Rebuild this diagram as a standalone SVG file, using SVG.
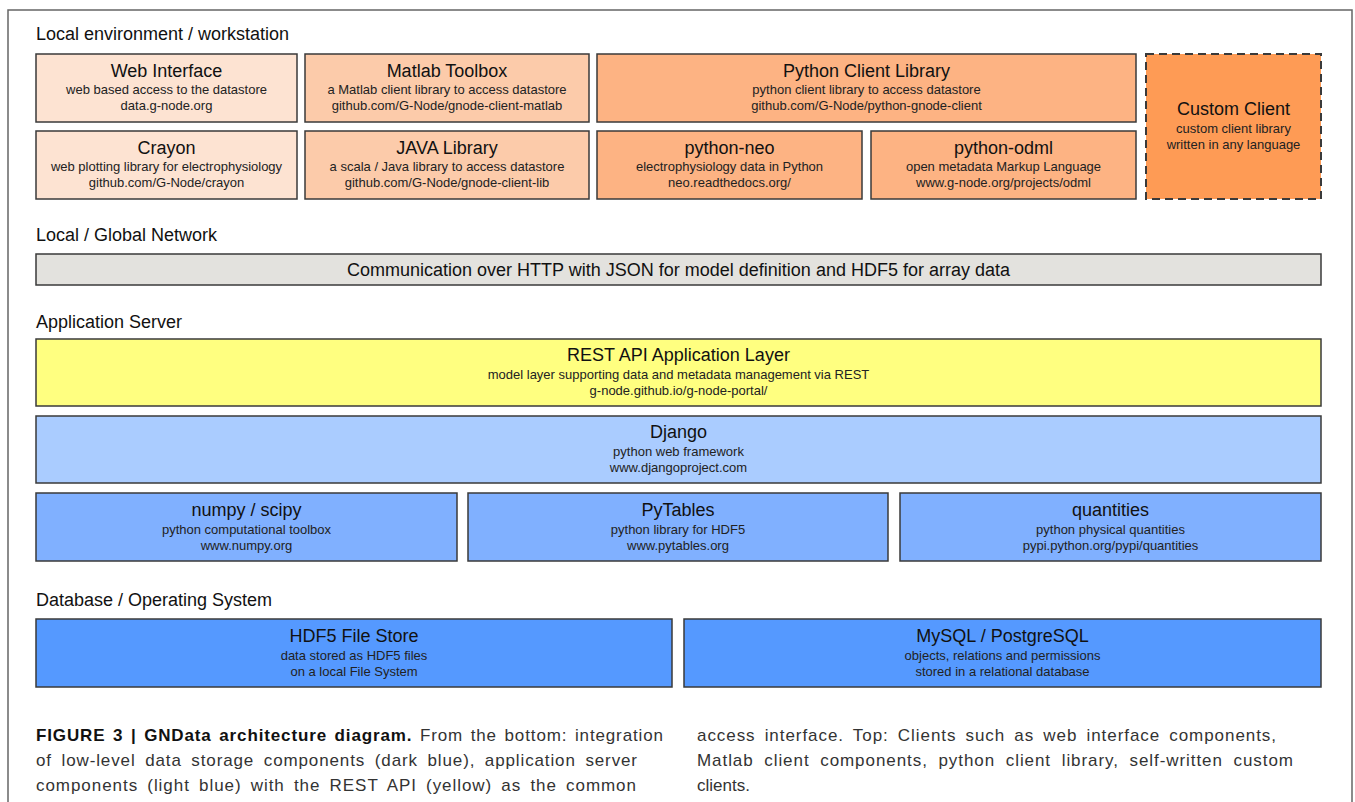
<svg xmlns="http://www.w3.org/2000/svg" width="1355" height="802" viewBox="0 0 1355 802">
<style>
.box{stroke:#3a3a3a;stroke-width:1.5}
.t{font-family:"Liberation Sans",Arial,sans-serif;font-size:18px;fill:#111;text-anchor:middle}
.s{font-family:"Liberation Sans",Arial,sans-serif;font-size:13px;fill:#222;text-anchor:middle}
.sec{font-family:"Liberation Sans",Arial,sans-serif;font-size:18px;fill:#111}
.cap{font-family:"Liberation Sans",Arial,sans-serif;font-size:17px;fill:#333}
.c1{fill:#fde3d2}.c2{fill:#fccbaa}.c3{fill:#fdb383}.c4{fill:#fe9b55}
.net{fill:#e3e2de}.rest{fill:#ffff80}.dj{fill:#aaccff}.mid{fill:#80b0ff}.db{fill:#5599ff}
</style>
<rect x="0" y="0" width="1355" height="802" fill="#fff"/>
<path d="M8,802 V10 H1352 V802" fill="none" stroke="#666" stroke-width="1.5"/>

<g id="labels">
<text class="sec" x="36" y="40">Local environment / workstation</text>
<text class="sec" x="36" y="241">Local / Global Network</text>
<text class="sec" x="36" y="328">Application Server</text>
<text class="sec" x="36" y="606">Database / Operating System</text>
</g>

<g id="web-interface">
<rect class="box c1" x="36" y="54" width="261" height="68"/>
<text class="t" x="166.5" y="77">Web Interface</text>
<text class="s" x="166.5" y="94">web based access to the datastore</text>
<text class="s" x="166.5" y="110">data.g-node.org</text>
</g>
<g id="matlab-toolbox">
<rect class="box c2" x="305" y="54" width="284" height="68"/>
<text class="t" x="447" y="77">Matlab Toolbox</text>
<text class="s" x="447" y="94">a Matlab client library to access datastore</text>
<text class="s" x="447" y="110">github.com/G-Node/gnode-client-matlab</text>
</g>
<g id="python-client-library">
<rect class="box c3" x="597" y="54" width="539" height="68"/>
<text class="t" x="866.5" y="77">Python Client Library</text>
<text class="s" x="866.5" y="94">python client library to access datastore</text>
<text class="s" x="866.5" y="110">github.com/G-Node/python-gnode-client</text>
</g>
<g id="custom-client">
<rect class="c4" x="1146" y="54" width="175" height="145" stroke="#3a3a3a" stroke-width="2" stroke-dasharray="8,5"/>
<text class="t" x="1233.5" y="115">Custom Client</text>
<text class="s" x="1233.5" y="133">custom client library</text>
<text class="s" x="1233.5" y="149">written in any language</text>
</g>
<g id="crayon">
<rect class="box c1" x="36" y="131" width="261" height="68"/>
<text class="t" x="166.5" y="154">Crayon</text>
<text class="s" x="166.5" y="171">web plotting library for electrophysiology</text>
<text class="s" x="166.5" y="187">github.com/G-Node/crayon</text>
</g>
<g id="java-library">
<rect class="box c2" x="305" y="131" width="284" height="68"/>
<text class="t" x="447" y="154">JAVA Library</text>
<text class="s" x="447" y="171">a scala / Java library to access datastore</text>
<text class="s" x="447" y="187">github.com/G-Node/gnode-client-lib</text>
</g>
<g id="python-neo">
<rect class="box c3" x="597" y="131" width="265" height="68"/>
<text class="t" x="729.5" y="154">python-neo</text>
<text class="s" x="729.5" y="171">electrophysiology data in Python</text>
<text class="s" x="729.5" y="187">neo.readthedocs.org/</text>
</g>
<g id="python-odml">
<rect class="box c3" x="871" y="131" width="265" height="68"/>
<text class="t" x="1003.5" y="154">python-odml</text>
<text class="s" x="1003.5" y="171">open metadata Markup Language</text>
<text class="s" x="1003.5" y="187">www.g-node.org/projects/odml</text>
</g>

<g id="network">
<rect class="box net" x="36" y="254" width="1285" height="31"/>
<text class="t" x="678.5" y="276">Communication over HTTP with JSON for model definition and HDF5 for array data</text>
</g>

<g id="rest-api">
<rect class="box rest" x="36" y="339" width="1285" height="67"/>
<text class="t" x="678.5" y="361">REST API Application Layer</text>
<text class="s" x="678.5" y="379">model layer supporting data and metadata management via REST</text>
<text class="s" x="678.5" y="395">g-node.github.io/g-node-portal/</text>
</g>
<g id="django">
<rect class="box dj" x="36" y="416" width="1285" height="67"/>
<text class="t" x="678.5" y="438">Django</text>
<text class="s" x="678.5" y="456">python web framework</text>
<text class="s" x="678.5" y="472">www.djangoproject.com</text>
</g>
<g id="numpy">
<rect class="box mid" x="36" y="493" width="421" height="68"/>
<text class="t" x="246.5" y="516">numpy / scipy</text>
<text class="s" x="246.5" y="534">python computational toolbox</text>
<text class="s" x="246.5" y="550">www.numpy.org</text>
</g>
<g id="pytables">
<rect class="box mid" x="468" y="493" width="420" height="68"/>
<text class="t" x="678" y="516">PyTables</text>
<text class="s" x="678" y="534">python library for HDF5</text>
<text class="s" x="678" y="550">www.pytables.org</text>
</g>
<g id="quantities">
<rect class="box mid" x="900" y="493" width="421" height="68"/>
<text class="t" x="1110.5" y="516">quantities</text>
<text class="s" x="1110.5" y="534">python physical quantities</text>
<text class="s" x="1110.5" y="550">pypi.python.org/pypi/quantities</text>
</g>
<g id="hdf5">
<rect class="box db" x="36" y="619" width="636" height="68"/>
<text class="t" x="354" y="642">HDF5 File Store</text>
<text class="s" x="354" y="660">data stored as HDF5 files</text>
<text class="s" x="354" y="676">on a local File System</text>
</g>
<g id="mysql">
<rect class="box db" x="684" y="619" width="637" height="68"/>
<text class="t" x="1002.5" y="642">MySQL / PostgreSQL</text>
<text class="s" x="1002.5" y="660">objects, relations and permissions</text>
<text class="s" x="1002.5" y="676">stored in a relational database</text>
</g>

<g id="connectors"></g>

<g id="caption">
<text class="cap" x="36" y="741" word-spacing="2" textLength="627" lengthAdjust="spacing"><tspan font-weight="bold" fill="#111">FIGURE 3 | GNData architecture diagram.</tspan> From the bottom: integration</text>
<text class="cap" x="36" y="766" word-spacing="4" textLength="601" lengthAdjust="spacing">of low-level data storage components (dark blue), application server</text>
<text class="cap" x="36" y="791" word-spacing="3.5" textLength="600" lengthAdjust="spacing">components (light blue) with the REST API (yellow) as the common</text>
<text class="cap" x="697" y="741" word-spacing="3.5" textLength="579" lengthAdjust="spacing">access interface. Top: Clients such as web interface components,</text>
<text class="cap" x="697" y="766" word-spacing="5" textLength="596" lengthAdjust="spacing">Matlab client components, python client library, self-written custom</text>
<text class="cap" x="697" y="791">clients.</text>
</g>
</svg>
